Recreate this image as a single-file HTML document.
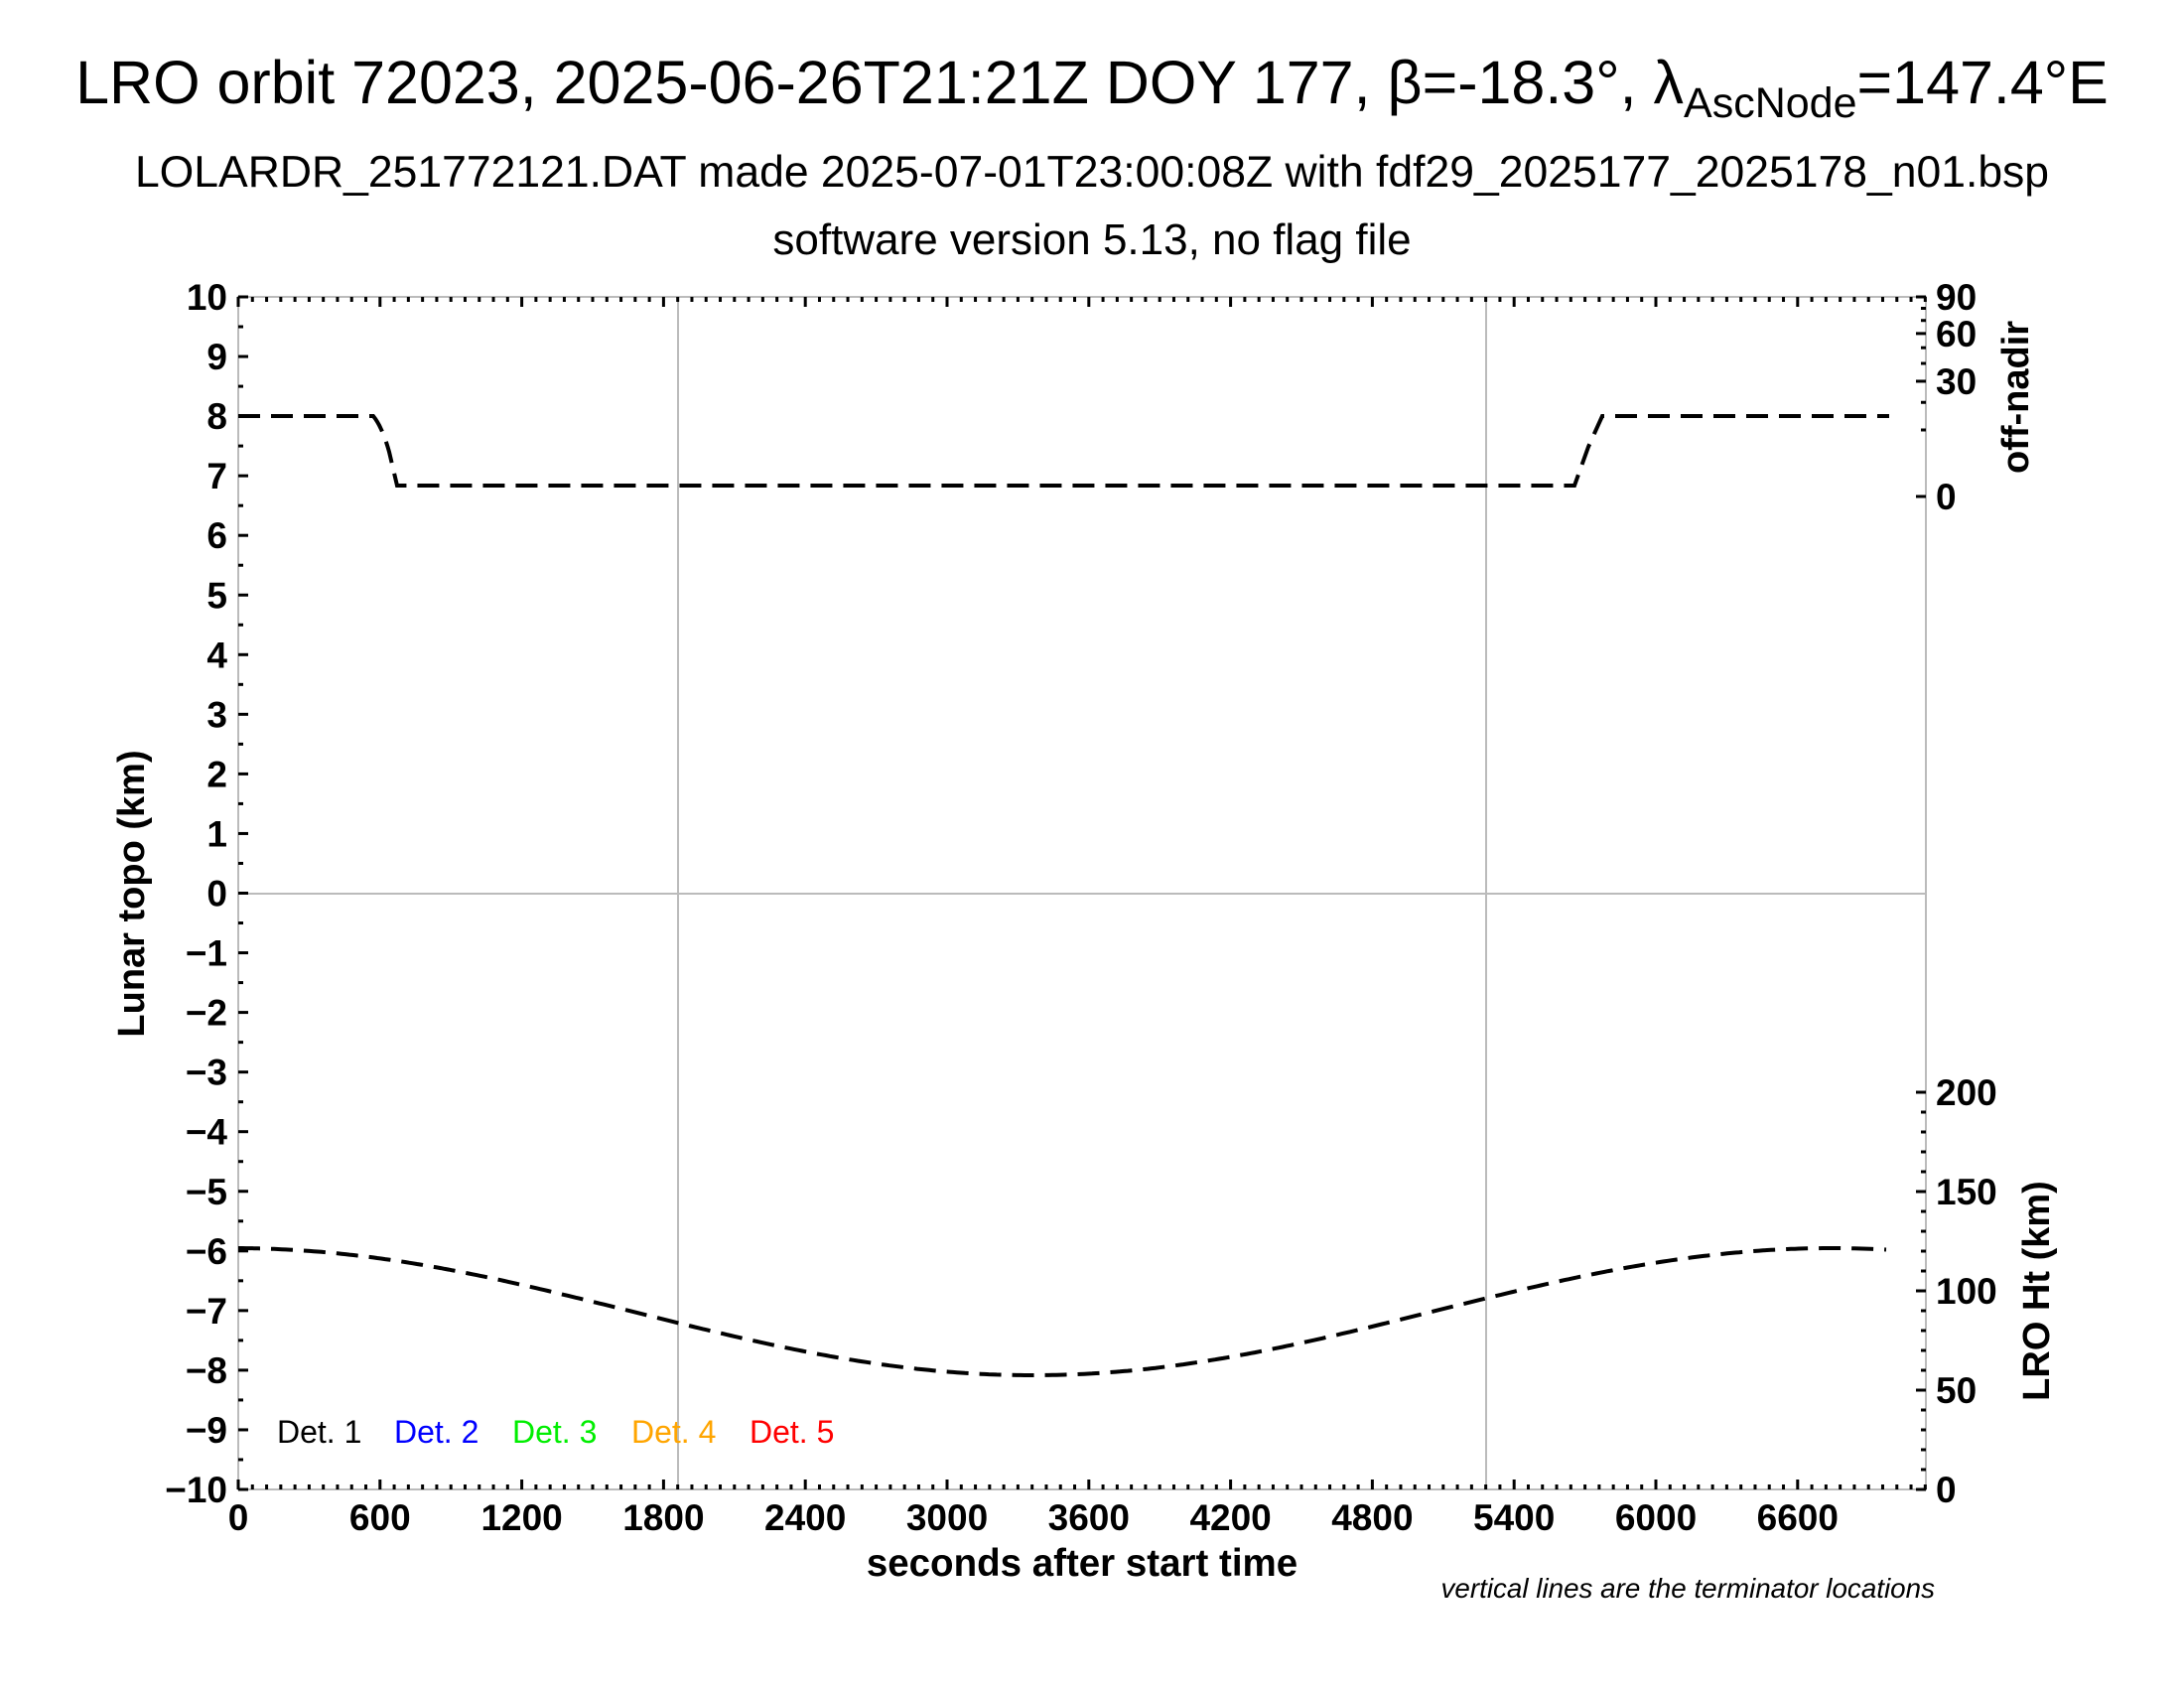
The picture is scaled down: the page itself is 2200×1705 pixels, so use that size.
<!DOCTYPE html>
<html><head><meta charset="utf-8"><style>
body{margin:0;background:#fff}
svg text{font-family:"Liberation Sans",Arial,sans-serif}
</style></head><body>
<svg id="s" width="2200" height="1700" xmlns="http://www.w3.org/2000/svg">
<rect width="2200" height="1700" fill="#fff"/>
<text x="1100" y="104" font-size="61" text-anchor="middle">LRO orbit 72023, 2025-06-26T21:21Z DOY 177, β=-18.3°, λ<tspan font-size="43" dy="14">AscNode</tspan><tspan dy="-14">=147.4°E</tspan></text>
<text x="1100" y="188" font-size="44.5" text-anchor="middle">LOLARDR_251772121.DAT made 2025-07-01T23:00:08Z with fdf29_2025177_2025178_n01.bsp</text>
<text x="1100" y="256" font-size="44" text-anchor="middle">software version 5.13, no flag file</text>
<g id="grid" stroke="#bbb" stroke-width="2" fill="none">
<rect x="240" y="299" width="1700" height="1201"/>
<line x1="240" y1="900" x2="1940" y2="900"/>
<line x1="683" y1="299" x2="683" y2="1500"/>
<line x1="1497" y1="299" x2="1497" y2="1500"/>
</g>
<g id="ticks" stroke="#000" stroke-width="3"></g>
<g id="labels" font-size="37" font-weight="bold"></g>
<path id="top" fill="none" stroke="#000" stroke-width="4" stroke-dasharray="22,11" d="M240,419 L376,419 Q385,430 392,455 L400,489 L1586,489 L1600,450 L1614,419 L1903,419"/>
<path id="bot" fill="none" stroke="#000" stroke-width="4" stroke-dasharray="22,11"/>
<text transform="translate(145,900) rotate(-90)" font-size="38" font-weight="bold" text-anchor="middle">Lunar topo (km)</text>
<text transform="translate(2043,400) rotate(-90)" font-size="38" font-weight="bold" text-anchor="middle">off-nadir</text>
<text transform="translate(2064,1300) rotate(-90)" font-size="38" font-weight="bold" text-anchor="middle">LRO Ht (km)</text>
<text x="1090" y="1587" font-size="38.5" font-weight="bold" text-anchor="middle">seconds after start time</text>
<text x="1949" y="1609" font-size="27.8" font-style="italic" text-anchor="end">vertical lines are the terminator locations</text>
<g font-size="32">
<text x="279" y="1453" fill="#000">Det. 1</text>
<text x="397" y="1453" fill="#0000ff">Det. 2</text>
<text x="516" y="1453" fill="#00ee00">Det. 3</text>
<text x="636" y="1453" fill="#ffa500">Det. 4</text>
<text x="755" y="1453" fill="#ff0000">Det. 5</text>
</g>
</svg>
<script>
var NS="http://www.w3.org/2000/svg";
function el(p,t,a,txt){var e=document.createElementNS(NS,t);for(var k in a)e.setAttribute(k,a[k]);if(txt!==undefined)e.textContent=txt;document.getElementById(p).appendChild(e);}
var L=240,R=1940,T=299,B=1500,px=142.8/600;
for(var s=0;s<=7140;s+=60){var x=L+s*px;var maj=s%600==0;var l=maj?10:5;
el("ticks","line",{x1:x,y1:B,x2:x,y2:B-l});el("ticks","line",{x1:x,y1:T,x2:x,y2:T+l});
if(maj&&s<=6600)el("labels","text",{x:x,y:1541,"text-anchor":"middle"},String(s));}
for(var v=-10;v<=10;v+=0.5){var y=B-(v+10)*60.05;var maj=v%1==0;var l=maj?10:5;
el("ticks","line",{x1:L,y1:y,x2:L+l,y2:y});
if(maj)el("labels","text",{x:229,y:y+13,"text-anchor":"end"},(v<0?"\u2212"+(-v):String(v)));}
for(var h=0;h<=200;h+=10){var y=B-2*h;var maj=h%50==0;el("ticks","line",{x1:R,y1:y,x2:R-(maj?10:5),y2:y});
if(maj)el("labels","text",{x:1950,y:y+13},String(h));}
[0,30,60,90].forEach(function(a){var y=500-201*Math.sqrt(a/90);el("ticks","line",{x1:R,y1:y,x2:R-10,y2:y});el("labels","text",{x:1950,y:y+13},String(a));});
for(var a=10;a<90;a+=10){if(a%30==0)continue;var y=500-201*Math.sqrt(a/90);el("ticks","line",{x1:R,y1:y,x2:R-5,y2:y});}
var d="";for(var x=240;x<=1903;x+=4){var h=89.5-32*Math.cos(Math.PI*(x-1040)/805);d+=(x==240?"M":"L")+x+","+(1500-2*h).toFixed(1);}
document.getElementById("bot").setAttribute("d",d);
</script>
</body></html>
